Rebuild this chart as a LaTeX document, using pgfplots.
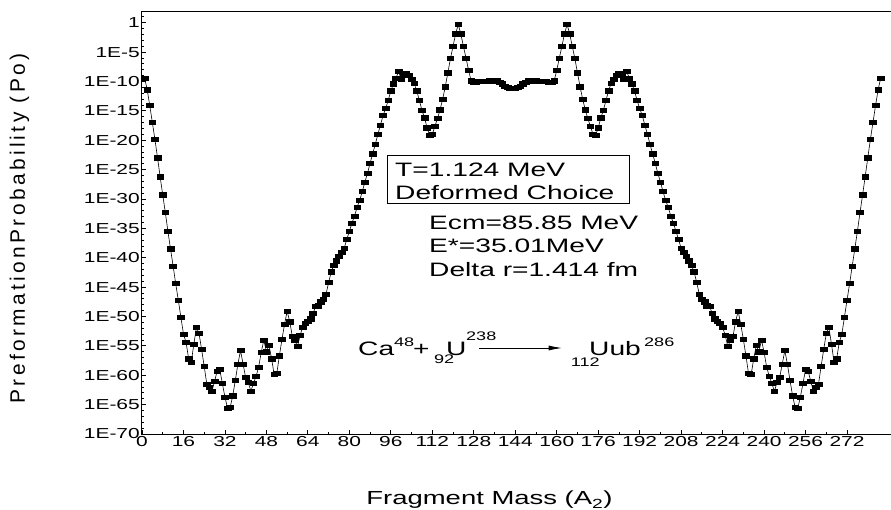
\documentclass[border=0pt]{standalone}
\usepackage{fontspec}
\setmainfont{Liberation Sans}[FakeStretch=1.45]
\newfontfamily\ylabfont{Liberation Sans}[LetterSpace=16]
\usepackage{pgfplots}
\pgfplotsset{compat=1.18}
\usepackage{pgfplotstable}
\usetikzlibrary{arrows.meta}

\pgfplotstableread{
A P
1 4.0e-10
2 4.0e-12
3 7.9e-15
4 1e-17
5 1.3e-20
6 1e-23
7 6.3e-27
8 5.0e-30
9 5.0e-33
10 3.2e-36
11 3.2e-39
12 4.0e-42
13 4.0e-45
14 6.3e-48
15 7.9e-51
16 1e-53
17 4.0e-55
18 6.3e-58
19 1.6e-58
20 2.0e-55
21 1.3e-52
22 1.3e-53
23 2.5e-56
24 3.2e-59
25 3.2e-62
26 7.9e-63
27 2.0e-63
28 1e-61
29 5.0e-60
30 1e-59
31 4.0e-62
32 2.0e-64
33 2.5e-66
34 3.2e-66
35 3.2e-64
36 1.3e-61
37 7.9e-59
38 1.6e-56
39 7.9e-59
40 4.0e-61
41 6.3e-62
42 2.0e-63
43 4.0e-62
44 6.3e-61
45 2.5e-59
46 7.9e-57
47 1e-54
48 1e-56
49 1.3e-55
50 6.3e-58
51 1.3e-60
52 2.0e-60
53 2.0e-57
54 1.3e-54
55 5.0e-52
56 7.9e-50
57 1.3e-51
58 4.0e-54
59 7.9e-55
60 7.9e-56
61 6.3e-54
62 1.6e-52
63 7.9e-52
64 1.6e-51
65 4.0e-51
66 3.2e-50
67 5.0e-49
68 6.3e-49
69 3.2e-48
70 7.9e-48
71 6.3e-47
72 6.3e-45
73 4.0e-43
74 5.0e-42
75 3.2e-41
76 2.0e-40
77 7.9e-40
78 4.0e-39
79 1.3e-37
80 3.2e-36
81 7.9e-35
82 1.3e-33
83 4.0e-32
84 6.3e-31
85 2.0e-29
86 7.9e-28
87 2.5e-26
88 1.3e-24
89 5.0e-23
90 2.0e-21
91 1e-19
92 4.0e-18
93 1.6e-16
94 2.5e-15
95 6.3e-14
96 2.5e-12
97 4.0e-11
98 4.0e-10
99 5.0e-9
100 2.5e-10
101 1e-9
102 2.5e-9
103 1e-9
104 2.5e-10
105 5.0e-11
106 2.5e-12
107 6.3e-14
108 1.3e-15
109 6.3e-17
110 1.3e-18
111 6.3e-20
112 1e-19
113 2.5e-18
114 5.0e-17
115 1.6e-15
116 1e-13
117 1.3e-11
118 3.2e-9
119 7.9e-7
120 1e-4
121 1.3e-2
122 0.5
123 1.3e-2
124 1e-4
125 1e-6
126 7.9e-9
127 1.3e-10
128 7.9e-11
129 7.9e-11
130 1e-10
131 1e-10
132 1e-10
133 1.12e-10
134 1.26e-10
135 1.41e-10
136 1.41e-10
137 1.26e-10
138 7.9e-11
139 4.0e-11
140 1.6e-11
141 1e-11
142 7.9e-12
143 7.1e-12
144 7.9e-12
145 1e-11
146 1.6e-11
147 4.0e-11
148 7.9e-11
149 1.26e-10
150 1.41e-10
151 1.41e-10
152 1.26e-10
153 1.12e-10
154 1e-10
155 1e-10
156 1e-10
157 7.9e-11
158 7.9e-11
159 1.3e-10
160 7.9e-9
161 1e-6
162 1e-4
163 1.3e-2
164 0.5
165 1.3e-2
166 1e-4
167 7.9e-7
168 3.2e-9
169 1.3e-11
170 1e-13
171 1.6e-15
172 5.0e-17
173 2.5e-18
174 1e-19
175 6.3e-20
176 1.3e-18
177 6.3e-17
178 1.3e-15
179 6.3e-14
180 2.5e-12
181 5.0e-11
182 2.5e-10
183 1e-9
184 2.5e-9
185 1e-9
186 2.5e-10
187 5.0e-9
188 4.0e-10
189 4.0e-11
190 2.5e-12
191 6.3e-14
192 2.5e-15
193 1.6e-16
194 4.0e-18
195 1e-19
196 2.0e-21
197 5.0e-23
198 1.3e-24
199 2.5e-26
200 7.9e-28
201 2.0e-29
202 6.3e-31
203 4.0e-32
204 1.3e-33
205 7.9e-35
206 3.2e-36
207 1.3e-37
208 4.0e-39
209 7.9e-40
210 2.0e-40
211 3.2e-41
212 5.0e-42
213 4.0e-43
214 6.3e-45
215 6.3e-47
216 7.9e-48
217 3.2e-48
218 6.3e-49
219 5.0e-49
220 3.2e-50
221 4.0e-51
222 1.6e-51
223 7.9e-52
224 1.6e-52
225 6.3e-54
226 7.9e-56
227 7.9e-55
228 4.0e-54
229 1.3e-51
230 7.9e-50
231 5.0e-52
232 1.3e-54
233 2.0e-57
234 2.0e-60
235 1.3e-60
236 6.3e-58
237 1.3e-55
238 1e-56
239 1e-54
240 7.9e-57
241 2.5e-59
242 6.3e-61
243 4.0e-62
244 2.0e-63
245 6.3e-62
246 4.0e-61
247 7.9e-59
248 1.6e-56
249 7.9e-59
250 1.3e-61
251 3.2e-64
252 3.2e-66
253 2.5e-66
254 2.0e-64
255 4.0e-62
256 1e-59
257 5.0e-60
258 1e-61
259 2.0e-63
260 7.9e-63
261 3.2e-62
262 3.2e-59
263 2.5e-56
264 1.3e-53
265 1.3e-52
266 2.0e-55
267 1.6e-58
268 6.3e-58
269 4.0e-55
270 1e-53
271 7.9e-51
272 6.3e-48
273 4.0e-45
274 4.0e-42
275 3.2e-39
276 3.2e-36
277 5.0e-33
278 5.0e-30
279 6.3e-27
280 1e-23
281 1.3e-20
282 1e-17
283 7.9e-15
284 4.0e-12
285 4.0e-10
}\data

\begin{document}
\begin{tikzpicture}
\useasboundingbox (-142bp,-76bp) rectangle (749bp,434bp);
\begin{axis}[
  scale only axis, width=750bp, height=423bp,
  at={(0,0)}, anchor=south west,
  xmin=0, xmax=289.35,
  ymode=log, ymin=1e-70, ymax=1e2,
  axis line style={line width=1bp},
  tick pos=left, tick align=inside,
  major tick length=4bp, minor tick length=2.5bp,
  every tick/.style={black, line width=0.8bp},
  xtick={0,16,32,48,64,80,96,112,128,144,160,176,192,208,224,240,256,272},
  minor x tick num=1,
  ytick={1e-70,1e-65,1e-60,1e-55,1e-50,1e-45,1e-40,1e-35,1e-30,1e-25,1e-20,1e-15,1e-10,1e-5,1},
  yticklabels={1E-70,1E-65,1E-60,1E-55,1E-50,1E-45,1E-40,1E-35,1E-30,1E-25,1E-20,1E-15,1E-10,1E-5,1},
  minor ytick={1e-69,1e-68,1e-67,1e-66,1e-64,1e-63,1e-62,1e-61,1e-59,1e-58,1e-57,1e-56,1e-54,1e-53,1e-52,1e-51,1e-49,1e-48,1e-47,1e-46,1e-44,1e-43,1e-42,1e-41,1e-39,1e-38,1e-37,1e-36,1e-34,1e-33,1e-32,1e-31,1e-29,1e-28,1e-27,1e-26,1e-24,1e-23,1e-22,1e-21,1e-19,1e-18,1e-17,1e-16,1e-14,1e-13,1e-12,1e-11,1e-9,1e-8,1e-7,1e-6,1e-4,1e-3,1e-2,1e-1,10},
  /pgf/number format/assume math mode=true,
  tick label style={font=\fontsize{14.5}{17}\selectfont},
  xticklabel style={inner ysep=2.5bp},
  yticklabel style={inner xsep=2bp},
  xlabel={Fragment Mass (A\textsubscript{2})},
  xlabel style={at={(axis description cs:0.4633,-0.1678)}, anchor=base, font=\fontsize{19}{22}\selectfont},
  ylabel={PreformationProbability (Po)},
  ylabel style={at={(axis description cs:-0.156,0.4858)}, anchor=base, font=\ylabfont\fontsize{21}{24}\selectfont},
]
\addplot[black, line width=0.6bp, mark=square*, mark size=2.15bp, mark options={xscale=1.55, fill=black}] table[x=A, y=P] {\data};
\end{axis}

% annotation box
\draw[line width=0.8bp] (245bp,231bp) rectangle (487bp,279bp);
\begin{scope}[every node/.style={inner sep=0pt, anchor=base west, font=\fontsize{19.5}{23}\selectfont}]
\node at (253bp,257bp) {T=1.124 MeV};
\node at (253bp,234bp) {Deformed Choice};
\node at (287bp,204bp) {Ecm=85.85 MeV};
\node at (287bp,181bp) {E*=35.01MeV};
\node at (287bp,157bp) {Delta r=1.414 fm};
% reaction
\node at (216bp,78bp) {Ca};
\node[font=\fontsize{12.5}{14}\selectfont] at (252bp,87.3bp) {48};
\node at (271bp,78bp) {+};
\node[font=\fontsize{12.5}{14}\selectfont] at (292bp,70.7bp) {92};
\node at (304bp,78bp) {U};
\node[font=\fontsize{12.5}{14}\selectfont] at (324bp,93.3bp) {238};
\node[font=\fontsize{12.5}{14}\selectfont] at (428.7bp,67.3bp) {112};
\node at (447bp,78bp) {Uub};
\node[font=\fontsize{12.5}{14}\selectfont] at (502bp,87.3bp) {286};
\end{scope}
\draw[line width=0.7bp, -{Latex[length=13bp,width=5bp]}] (337bp,86bp) -- (419.7bp,86bp);
\end{tikzpicture}
\end{document}
